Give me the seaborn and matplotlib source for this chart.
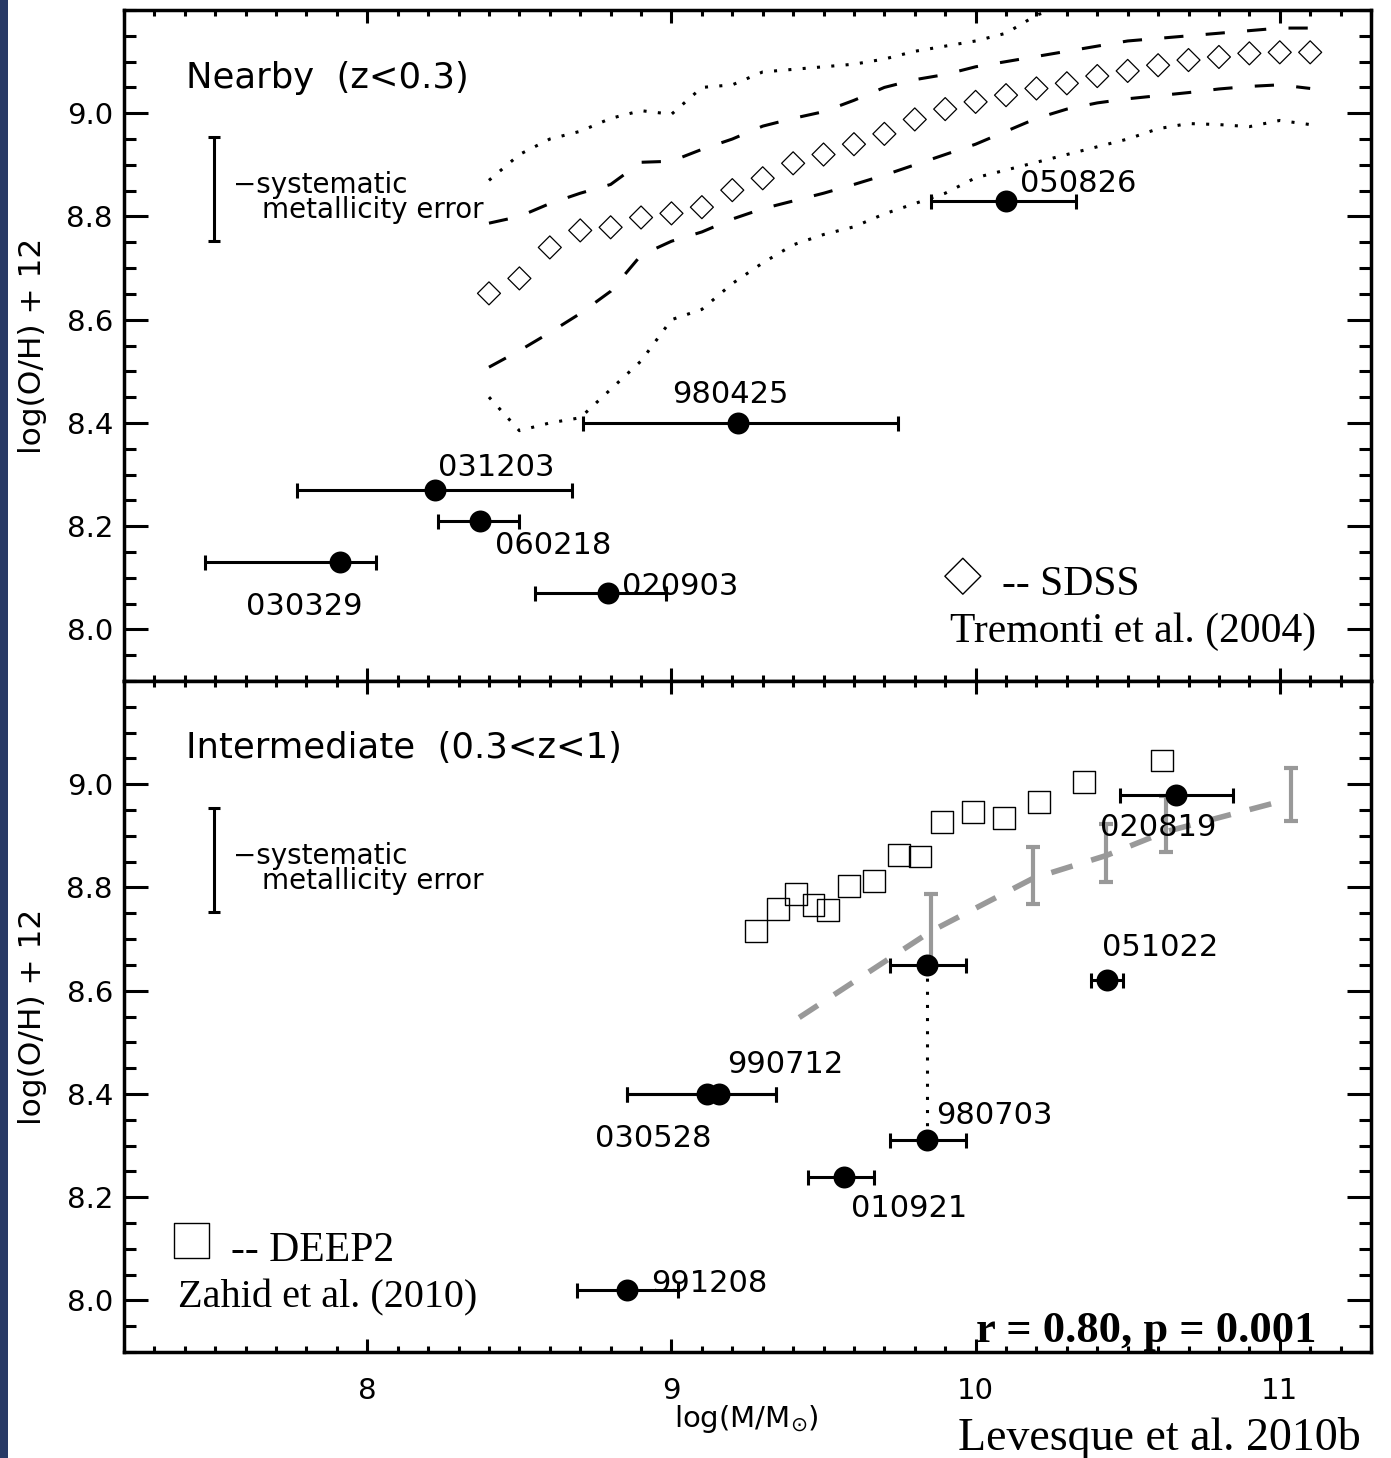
import numpy as np
import pandas as pd
import matplotlib
matplotlib.use("Agg")
import matplotlib.pyplot as plt
import seaborn as sns
from matplotlib.ticker import MultipleLocator, FixedLocator, FormatStrFormatter
from matplotlib.patches import Rectangle

# ------------------------------------------------------------------ data
# SDSS mass-metallicity relation (Tremonti et al. 2004)
sdss_mass = [8.4, 8.5, 8.6, 8.7, 8.8, 8.9, 9.0, 9.1, 9.2, 9.3, 9.4, 9.5, 9.6, 9.7,
             9.8, 9.9, 10.0, 10.1, 10.2, 10.3, 10.4, 10.5, 10.6, 10.7, 10.8, 10.9,
             11.0, 11.1]
sdss_median = [8.651, 8.680, 8.740, 8.773, 8.779, 8.798, 8.806, 8.818, 8.851, 8.874,
               8.903, 8.920, 8.940, 8.960, 8.988, 9.008, 9.022, 9.035, 9.048, 9.058,
               9.072, 9.082, 9.093, 9.103, 9.109, 9.116, 9.118, 9.118]
sdss_p84 = [8.787, 8.800, 8.825, 8.845, 8.862, 8.905, 8.907, 8.930, 8.950, 8.975,
            8.990, 9.003, 9.025, 9.050, 9.065, 9.075, 9.090, 9.100, 9.110, 9.120,
            9.130, 9.140, 9.145, 9.150, 9.155, 9.160, 9.165, 9.165]
sdss_p16 = [8.508, 8.540, 8.575, 8.612, 8.655, 8.725, 8.752, 8.770, 8.795, 8.815,
            8.830, 8.845, 8.862, 8.880, 8.900, 8.920, 8.940, 8.965, 8.990, 9.008,
            9.020, 9.028, 9.034, 9.040, 9.047, 9.052, 9.055, 9.048]
sdss_p975 = [8.870, 8.920, 8.950, 8.965, 8.990, 9.005, 8.998, 9.050, 9.055, 9.080,
             9.085, 9.090, 9.095, 9.105, 9.120, 9.130, 9.140, 9.155, 9.190, 9.210,
             9.220, 9.225, 9.230, 9.235, 9.240, 9.245, 9.250, 9.250]
sdss_p025 = [8.450, 8.385, 8.400, 8.410, 8.465, 8.520, 8.600, 8.620, 8.670, 8.710,
             8.745, 8.765, 8.780, 8.805, 8.825, 8.845, 8.875, 8.890, 8.905, 8.920,
             8.935, 8.950, 8.970, 8.980, 8.978, 8.974, 8.986, 8.978]

# Nearby GRB hosts (z < 0.3)
near_names = ["050826", "980425", "031203", "060218", "030329", "020903"]
near_mass = [10.10, 9.22, 8.222, 8.37, 7.91, 8.79]
near_mass_lo = [9.853, 8.709, 7.770, 8.231, 7.466, 8.551]
near_mass_hi = [10.330, 9.744, 8.673, 8.500, 8.030, 8.983]
near_oh = [8.83, 8.40, 8.27, 8.21, 8.13, 8.07]

# Intermediate GRB hosts (0.3 < z < 1)
mid_names = ["020819", "051022", "980703", "980703", "990712", "030528", "010921", "991208"]
mid_mass = [10.66, 10.433, 9.84, 9.84, 9.155, 9.118, 9.566, 8.854]
mid_mass_lo = [10.474, 10.378, 9.718, 9.718, 8.854, 8.854, 9.450, 8.691]
mid_mass_hi = [10.846, 10.486, 9.969, 9.969, 9.345, 9.345, 9.665, 9.022]
mid_oh = [8.98, 8.62, 8.65, 8.31, 8.40, 8.40, 8.24, 8.02]

# DEEP2 (Zahid et al. 2010)
deep2_mass = [9.279, 9.350, 9.408, 9.467, 9.515, 9.583, 9.665, 9.748, 9.817, 9.888,
              9.990, 10.092, 10.207, 10.355, 10.613]
deep2_oh = [8.715, 8.758, 8.787, 8.766, 8.756, 8.802, 8.812, 8.862, 8.860, 8.926,
            8.946, 8.934, 8.965, 9.004, 9.046]

# grey dashed relation with binned error bars
zrel_mass = [9.42, 9.853, 10.19, 10.43, 10.625, 11.036]
zrel_oh = [8.548, 8.715, 8.818, 8.862, 8.908, 8.972]
zbar_mass = [9.853, 10.19, 10.43, 10.625, 11.036]
zbar_center = [8.715, 8.818, 8.862, 8.908, 8.972]
zbar_top = [8.787, 8.878, 8.922, 8.977, 9.031]
zbar_bottom = [8.645, 8.767, 8.810, 8.868, 8.928]

# axis ticks
y_ticks = [8.0, 8.2, 8.4, 8.6, 8.8, 9.0]
x_ticks = [8, 9, 10, 11]

# systematic metallicity error bar
sys_err = 0.10

# ------------------------------------------------------------------ layout (text anchors)
near_label_pos = [(10.146, 8.847), (9.002, 8.438), (8.231, 8.297), (8.419, 8.147),
                  (7.601, 8.027), (8.837, 8.066)]
mid_label_pos = [(10.409, 8.899), (10.416, 8.667), None, (9.869, 8.341), (9.184, 8.440),
                 (8.750, 8.298), (9.589, 8.161), (8.933, 8.017)]

# ------------------------------------------------------------------ style
sns.set_style("ticks")
plt.rcParams["font.family"] = ["DejaVu Sans"]
plt.rcParams["mathtext.fontset"] = "dejavusans"
for key in ("text.color", "axes.labelcolor", "xtick.color", "ytick.color",
            "axes.edgecolor"):
    plt.rcParams[key] = "black"
SERIF = ["Liberation Serif", "DejaVu Serif"]

W, H = 1391, 1458
fig = plt.figure(figsize=(W / 100, H / 100), dpi=100)
fig.patch.set_facecolor("white")
fig.patches.append(Rectangle((0, 0), 8 / W, 1, transform=fig.transFigure,
                             facecolor="#283a66", edgecolor="none", zorder=0))

ax1 = fig.add_axes([124 / W, 1 - 681 / H, (1371 - 124) / W, (681 - 10) / H])
ax2 = fig.add_axes([124 / W, 1 - 1352 / H, (1371 - 124) / W, (1352 - 681) / H])

LAB = 22
SYS = 20
for ax in (ax1, ax2):
    ax.set_facecolor("white")
    # systematic error bar
    ax.errorbar([7.496], [8.853], yerr=[sys_err], fmt="none", ecolor="black",
                elinewidth=2.2, capsize=4.5, capthick=2.2, zorder=4)
    ax.text(7.558, 8.846, "\u2212systematic", fontsize=SYS, zorder=6)
    ax.text(7.654, 8.797, "metallicity error", fontsize=SYS, zorder=6)

# ------------------------------------------------------------------ top panel
sdss_df = pd.DataFrame({"mass": sdss_mass, "median": sdss_median, "p84": sdss_p84,
                        "p16": sdss_p16, "p975": sdss_p975, "p025": sdss_p025})
for col in ("p84", "p16"):
    sns.lineplot(data=sdss_df, x="mass", y=col, ax=ax1, color="black", lw=2.2,
                 linestyle=(0, (6.3, 7.3)), estimator=None, sort=False, zorder=2)
for col in ("p975", "p025"):
    sns.lineplot(data=sdss_df, x="mass", y=col, ax=ax1, color="black", lw=2.2,
                 linestyle=(0, (1.0, 3.7)), estimator=None, sort=False, zorder=2)
sns.scatterplot(data=sdss_df, x="mass", y="median", ax=ax1, marker="D", s=137,
                facecolor="none", edgecolor="black", linewidth=0.9, zorder=3)

near_df = pd.DataFrame({"name": near_names, "mass": near_mass, "oh": near_oh,
                        "lo": near_mass_lo, "hi": near_mass_hi})
ax1.errorbar(near_df["mass"], near_df["oh"],
             xerr=[near_df["mass"] - near_df["lo"], near_df["hi"] - near_df["mass"]],
             fmt="none", ecolor="black", elinewidth=2.2, capsize=5.4, capthick=2.2,
             zorder=4)
sns.scatterplot(data=near_df, x="mass", y="oh", ax=ax1, marker="o", s=250,
                color="black", edgecolor="black", linewidth=0, zorder=5)
for name, pos in zip(near_names, near_label_pos):
    ax1.text(pos[0], pos[1], name, fontsize=LAB, zorder=6)

ax1.text(7.403, 9.048, "Nearby  (z<0.3)", fontsize=25.5, zorder=6)
sns.scatterplot(x=[9.958], y=[8.103], ax=ax1, marker="D", s=335, facecolor="none",
                edgecolor="black", linewidth=1.0, zorder=6)
ax1.text(10.086, 8.066, "-- SDSS", fontsize=30, family=SERIF, zorder=6)
ax1.text(9.915, 7.976, "Tremonti et al. (2004)", fontsize=30, family=SERIF, zorder=6)

# ------------------------------------------------------------------ bottom panel
zrel_df = pd.DataFrame({"mass": zrel_mass, "oh": zrel_oh})
sns.lineplot(data=zrel_df, x="mass", y="oh", ax=ax2, color="#999999", lw=4,
             linestyle=(0, (4.0, 3.5)), estimator=None, sort=False, zorder=2)
zc = np.array(zbar_center)
ax2.errorbar(zbar_mass, zc, yerr=[zc - np.array(zbar_bottom), np.array(zbar_top) - zc],
             fmt="none", ecolor="#999999", elinewidth=3, capsize=4.7, capthick=3,
             zorder=2)

deep_df = pd.DataFrame({"mass": deep2_mass, "oh": deep2_oh})
sns.scatterplot(data=deep_df, x="mass", y="oh", ax=ax2, marker="s", s=250,
                facecolor="none", edgecolor="black", linewidth=1.0, zorder=3)

mid_df = pd.DataFrame({"name": mid_names, "mass": mid_mass, "oh": mid_oh,
                       "lo": mid_mass_lo, "hi": mid_mass_hi})
# dotted link between the two 980703 metallicities
link = mid_df[mid_df["name"] == "980703"]
sns.lineplot(data=link, x="mass", y="oh", ax=ax2, color="black", lw=2.2,
             linestyle=(0, (1.0, 3.3)), estimator=None, sort=False, zorder=3)
ax2.errorbar(mid_df["mass"], mid_df["oh"],
             xerr=[mid_df["mass"] - mid_df["lo"], mid_df["hi"] - mid_df["mass"]],
             fmt="none", ecolor="black", elinewidth=2.2, capsize=5.4, capthick=2.2,
             zorder=4)
sns.scatterplot(data=mid_df, x="mass", y="oh", ax=ax2, marker="o", s=250,
                color="black", edgecolor="black", linewidth=0, zorder=5)
for name, pos in zip(mid_names, mid_label_pos):
    if pos is not None:
        ax2.text(pos[0], pos[1], name, fontsize=LAB, zorder=6)

ax2.text(7.403, 9.050, "Intermediate  (0.3<z<1)", fontsize=25.5, zorder=6)
sns.scatterplot(x=[7.423], y=[8.116], ax=ax2, marker="s", s=625, facecolor="none",
                edgecolor="black", linewidth=1.0, zorder=6)
ax2.text(7.552, 8.076, "-- DEEP2", fontsize=30, family=SERIF, zorder=6)
ax2.text(7.379, 7.986, "Zahid et al. (2010)", fontsize=29, family=SERIF, zorder=6)
ax2.text(10.000, 7.919, "r = 0.80, p = 0.001", fontsize=32, family=SERIF,
         fontweight="bold", zorder=6)

# ------------------------------------------------------------------ axes cosmetics
for ax in (ax1, ax2):
    ax.set_xlim(7.2, 11.3)
    ax.set_ylim(7.9, 9.2)
    ax.xaxis.set_major_locator(FixedLocator(x_ticks))
    ax.xaxis.set_minor_locator(MultipleLocator(0.1))
    ax.yaxis.set_major_locator(FixedLocator(y_ticks))
    ax.yaxis.set_minor_locator(MultipleLocator(0.05))
    ax.yaxis.set_major_formatter(FormatStrFormatter("%.1f"))
    ax.tick_params(which="both", direction="in", top=True, right=True, width=2.2,
                   colors="black")
    ax.tick_params(axis="x", which="major", length=9.5, pad=18, labelsize=21)
    ax.tick_params(axis="x", which="minor", length=4.5)
    ax.tick_params(axis="y", which="major", length=17, pad=8, labelsize=21)
    ax.tick_params(axis="y", which="minor", length=8.5)
    for s in ax.spines.values():
        s.set_linewidth(2.5)
        s.set_color("black")
    ax.set_xlabel("")
    ax.set_ylabel("log(O/H) + 12", fontsize=22.5, color="black")
    ax.yaxis.set_label_coords(-0.062, 0.5)
    leg = ax.get_legend()
    if leg is not None:
        leg.remove()
ax1.tick_params(labelbottom=False)

fig.text(746 / W, 1 - 1427 / H, r"log(M/M$_{\odot}$)", fontsize=21, ha="center",
         va="baseline")
fig.text(958 / W, 1 - 1450 / H, "Levesque et al. 2010b", fontsize=33, family=SERIF,
         ha="left", va="baseline")

fig.savefig("out.png", dpi=100, facecolor="white")
